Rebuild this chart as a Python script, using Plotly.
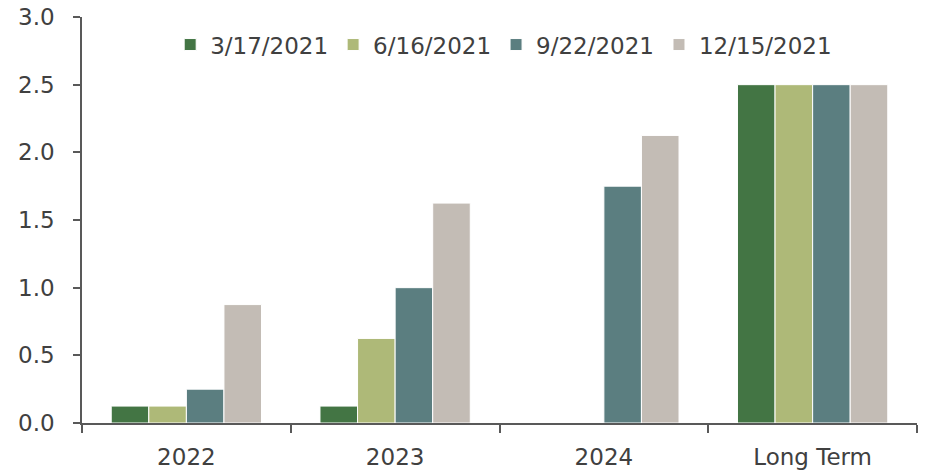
import plotly.graph_objects as go

categories = ["2022", "2023", "2024", "Long Term"]
series_names = ["3/17/2021", "6/16/2021", "9/22/2021", "12/15/2021"]
values_0317 = [0.125, 0.125, None, 2.5]
values_0616 = [0.125, 0.625, None, 2.5]
values_0922 = [0.25, 1.0, 1.75, 2.5]
values_1215 = [0.875, 1.625, 2.125, 2.5]
colors = ["#437544", "#AEB978", "#5B7E80", "#C3BCB5"]

all_values = [values_0317, values_0616, values_0922, values_1215]

fig = go.Figure()
for name, vals, col in zip(series_names, all_values, colors):
    fig.add_trace(go.Bar(
        x=categories, y=vals, name=name,
        marker=dict(color=col, line=dict(color="white", width=1)),
    ))

font_family = "DejaVu Sans, Arial, sans-serif"
axis_col = "#595959"
text_col = "#404040"
fsize = 23

fig.update_layout(
    width=929, height=473,
    margin=dict(l=82, r=12, t=17, b=50),
    plot_bgcolor="white", paper_bgcolor="white",
    barmode="group", bargap=0.28, bargroupgap=0,
    font=dict(family=font_family, size=fsize, color=text_col),
    showlegend=True,
    legend=dict(
        orientation="h", x=0.505, xanchor="center", y=0.985, yanchor="top",
        font=dict(size=fsize, color=text_col), bgcolor="rgba(0,0,0,0)",
        itemwidth=30, tracegroupgap=0,
    ),
    xaxis=dict(
        automargin=False,
        showline=True, linecolor=axis_col, linewidth=1.5,
        ticks="outside", tickson="boundaries", ticklen=8, tickcolor=axis_col,
        tickwidth=1.5, showgrid=False, ticklabelstandoff=13,
        tickfont=dict(size=fsize, color=text_col),
    ),
    yaxis=dict(
        automargin=False,
        range=[0, 3.0], dtick=0.5, tickformat=".1f",
        showline=True, linecolor=axis_col, linewidth=1.5,
        ticks="outside", ticklen=7, tickcolor=axis_col, tickwidth=1.5,
        showgrid=False, zeroline=False, ticklabelstandoff=14,
        tickfont=dict(size=fsize, color=text_col),
    ),
)

fig.write_html("out.html")
